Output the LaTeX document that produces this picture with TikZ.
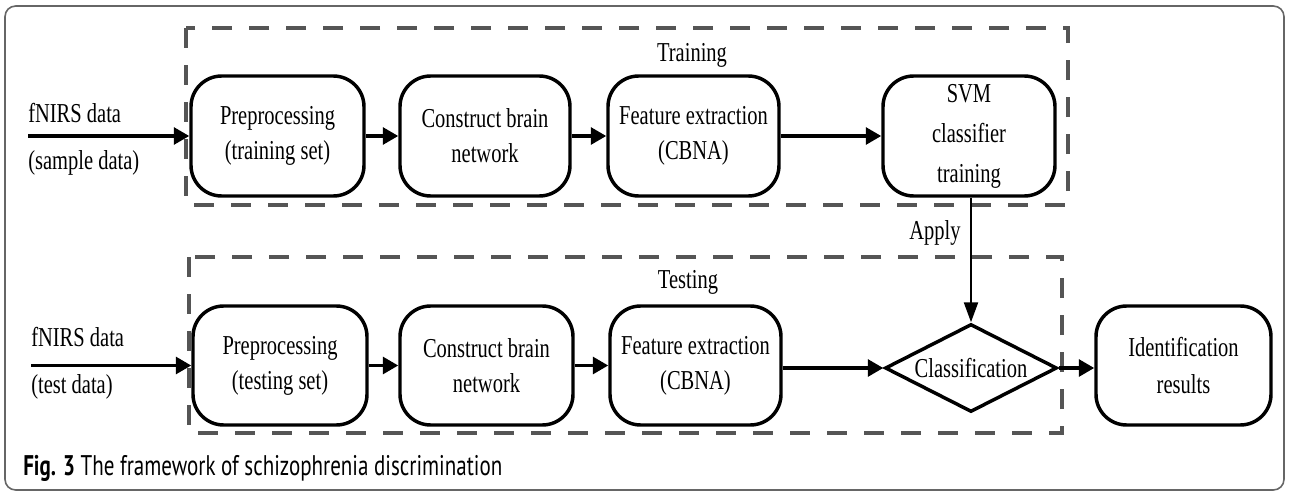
\documentclass[tikz,border=0pt]{standalone}
\usepackage{fontspec}
\usetikzlibrary{arrows.meta,shapes.geometric}
\newfontfamily\dserif[FakeStretch=0.75]{Liberation Serif}
\newfontfamily\csans[FakeStretch=0.74]{PT Sans}
\newcommand{\dfont}{\dserif\fontsize{20.5pt}{26.25pt}\selectfont}
\newcommand{\capfont}{\csans\fontsize{21.3pt}{24pt}\selectfont}
\definecolor{dashgray}{HTML}{555555}
\definecolor{framegray}{HTML}{666666}
\tikzset{
  procbox/.style={draw=black, line width=2.6pt, rounded corners=23pt, align=center,
    inner sep=0pt, font=\dfont},
  decbox/.style={draw=black, line width=2.6pt, diamond, aspect=2, inner sep=0pt,
    font=\dfont, minimum width=129pt, minimum height=66pt},
  grpbox/.style={draw=dashgray, line width=2.6pt, dash pattern=on 15pt off 12.75pt},
  arr/.style={line width=2.6pt, -{Triangle[length=11.5pt,width=12.5pt]}},
  thinarr/.style={line width=1.7pt, -{Triangle[length=15pt,width=10.5pt]}},
  lbl/.style={font=\dfont, inner sep=0pt},
}
\begin{document}
\begin{tikzpicture}[x=0.75pt,y=-0.75pt]
\useasboundingbox (0,0) rectangle (1290,493);
% outer frame
\draw[framegray, line width=1.2pt, rounded corners=8pt] (5,6) rectangle (1284,490);
% group boxes
\draw[grpbox] (186,28) rectangle (1068,205);
\draw[grpbox] (189,257) rectangle (1062,433);
\node[lbl] (trainlbl) at (692,55) {Training};
\node[lbl] (testlbl) at (688,282) {Testing};
% top row
\node[procbox, minimum width=129.75pt, minimum height=90pt] (b1) at (277.5,136) {Preprocessing\\(training set)};
\node[procbox, minimum width=127.5pt, minimum height=90pt] (b2) at (485,136) {Construct brain\\network};
\node[procbox, minimum width=128.25pt, minimum height=90pt] (b3) at (693.5,136) {Feature extraction\\(CBNA)};
\node[procbox, minimum width=129pt, minimum height=90pt,
      font=\dserif\fontsize{20.5pt}{30pt}\selectfont] (svm) at (969,136) {SVM\\classifier\\training};
% bottom row
\node[procbox, minimum width=130.5pt, minimum height=89.25pt] (c1) at (280,365.5) {Preprocessing\\(testing set)};
\node[procbox, minimum width=129.75pt, minimum height=89.25pt] (c2) at (486.5,365.5) {Construct brain\\network};
\node[procbox, minimum width=128.25pt, minimum height=89.25pt] (c3) at (695.5,365.5) {Feature extraction\\(CBNA)};
\node[decbox] (cls) at (971,368) {Classification};
\node[procbox, minimum width=131.25pt, minimum height=89.25pt,
      font=\dserif\fontsize{20.5pt}{27.75pt}\selectfont] (res) at (1183.5,365.5) {Identification\\results};
% inputs
\node[lbl, anchor=west] (in1) at (28,113) {fNIRS data};
\node[lbl, anchor=west] (in1b) at (28,163) {(sample data)};
\node[lbl, anchor=west] (in2) at (31,337) {fNIRS data};
\node[lbl, anchor=west] (in2b) at (31,387) {(test data)};
\coordinate (s1) at (28,136);
\coordinate (s2) at (31,365.5);
\draw[arr] (s1) -- (b1.west);
\draw[arr] (s2) -- (c1.west);
\draw[arr] (b1) -- (b2);
\draw[arr] (b2) -- (b3);
\draw[arr] (b3) -- (svm);
\draw[arr] (c1) -- (c2);
\draw[arr] (c2) -- (c3);
\draw[arr] (c3.east |- cls.west) -- (cls.west);
\draw[arr] (cls.east) -- (cls.east -| res.west);
\draw[thinarr] (svm.south -| cls.north) -- (cls.north);
\node[lbl] (apply) at (935,233) {Apply};
% caption
\node[anchor=base west, inner sep=0pt, font=\capfont] (cap) at (23,475) {\textbf{Fig. 3} The framework of schizophrenia discrimination};
\end{tikzpicture}
\end{document}
